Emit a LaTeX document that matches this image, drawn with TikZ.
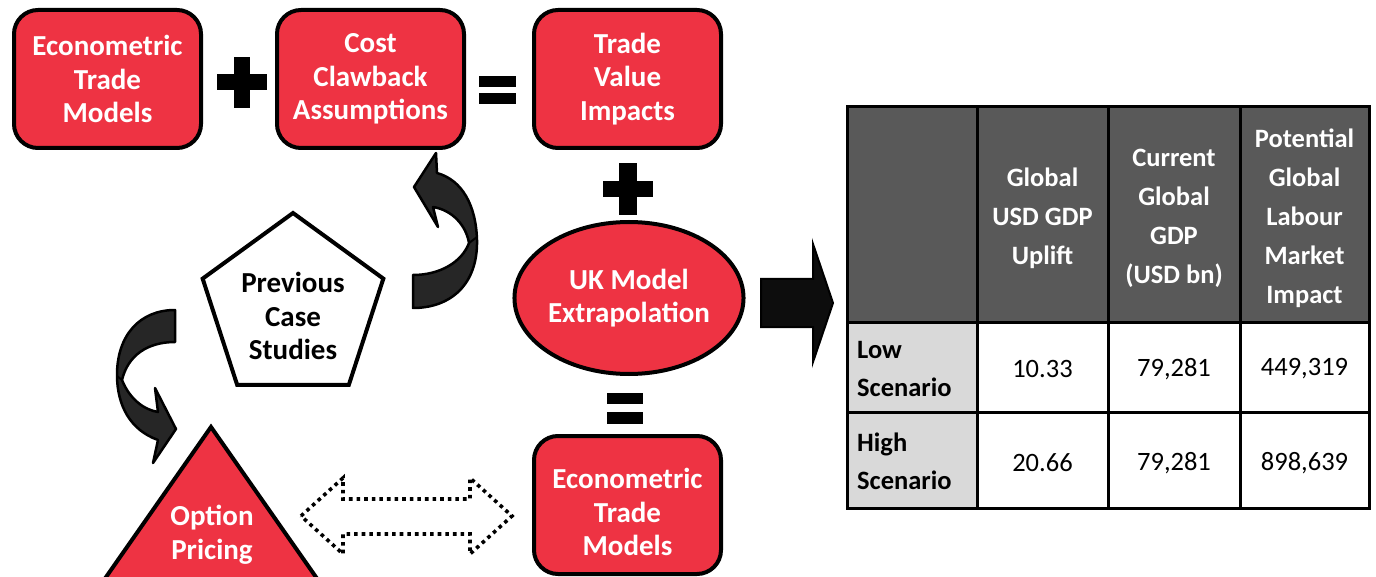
\documentclass[tikz,border=0pt]{standalone}
\usepackage{fontspec}
\setmainfont{Carlito}
\usepackage{tikz}
\usetikzlibrary{positioning,shapes.geometric}

\definecolor{boxred}{RGB}{238,51,67}
\definecolor{arrowgray}{RGB}{38,38,38}
\definecolor{headgray}{RGB}{89,89,89}
\definecolor{rowgray}{RGB}{217,217,217}

\begin{document}
\begin{tikzpicture}[x=1pt,y=-1pt,
    redbox/.style={draw,line width=4pt,fill=boxred,rounded corners=24pt,minimum width=187pt,minimum height=138pt,inner sep=0pt,align=center,text=white,font=\bfseries\fontsize{29}{33.5}\selectfont},
    boxtext/.style={align=center,text=white,font=\bfseries\fontsize{29}{33.5}\selectfont},
    bendarrow/.style={draw,fill=arrowgray,line width=2.5pt,line join=round},
    headtext/.style={align=center,text=white,font=\bfseries\fontsize{26.5}{39}\selectfont},
    celltext/.style={font=\fontsize{26.5}{32}\selectfont},
    rowtext/.style={anchor=west,align=left,inner sep=0pt,font=\bfseries\fontsize{26.5}{38}\selectfont}]
  \useasboundingbox (0,0) rectangle (1376,577);
  \clip (0,0) rectangle (1376,577);

  % top row
  \node[redbox] (etm) at (107.5,79) {Econometric\\Trade\\Models};
  \node[redbox,right=72pt of etm] (ccl) {Cost\\Clawback\\Assumptions};
  \node[redbox,right=66pt of ccl] (tvi) {Trade\\Value\\Impacts};

  % + and =
  \fill (217,74) rectangle (267,90);
  \fill (234,57) rectangle (250,108);
  \fill (479,76) rectangle (516,87);
  \fill (479,93) rectangle (516,104);
  \fill (603,181) rectangle (653,197);
  \fill (619,163) rectangle (637,215);
  \fill (607,393) rectangle (643,404);
  \fill (607,412) rectangle (643,424);

  % middle column
  \node[ellipse,draw,line width=4pt,fill=boxred,minimum width=226pt,minimum height=152pt,inner sep=0pt,boxtext] (ukm) at (629,298) {UK Model\\Extrapolation};
  \node[redbox] (etm2) at (627.5,505) {};
  \node[boxtext] (etm2txt) at (627.5,512) {Econometric\\Trade\\Models};

  % case studies
  \node[regular polygon,regular polygon sides=5,draw,line width=4pt,fill=white,minimum size=190pt,inner sep=0pt] (pcs) at (293,308) {};
  \node[align=center,font=\bfseries\fontsize{29}{33.5}\selectfont] (pcstxt) at (293,316) {Previous\\Case\\Studies};

  % option pricing
  \draw[line width=4pt,fill=boxred] (211,427) -- (62,640) -- (360,640) -- cycle;
  \node[boxtext] (opt) at (212,535) {Option\\Pricing};

  % curved arrows
  \draw[bendarrow] (436,153) -- (414,187) -- (438,227) -- (433,207)
    .. controls (452,210) and (466,225) .. (469,243)
    .. controls (462,262) and (440,275) .. (413,275) -- (413,308)
    .. controls (450,308) and (478,285) .. (477,240)
    .. controls (476,205) and (462,180) .. (437,173) -- cycle;
  \draw[line width=2pt] (469,243) -- (477,237);
  \draw[bendarrow] (175,310) -- (175,342)
    .. controls (148,342) and (128,355) .. (122,380)
    .. controls (130,400) and (145,410) .. (158,412) -- (155,388) -- (176,429) -- (153,463) -- (158,440)
    .. controls (130,430) and (117,405) .. (117,375)
    .. controls (117,335) and (140,310) .. (175,310) -- cycle;
  \draw[line width=2pt] (122,380) -- (117,376);

  % dotted double arrow
  \draw[line width=3.6pt,dash pattern=on 3.6pt off 4pt] (301,516) -- (343,478) -- (343,499) -- (470,499) -- (470,478) -- (512,516) -- (470,554) -- (470,534) -- (343,534) -- (343,554) -- cycle;

  % arrow to the table
  \draw[line width=2pt,fill=black!95] (761,279) -- (813,279) -- (813,244) -- (833,303) -- (813,362) -- (813,327) -- (761,327) -- cycle;

  % table
  \fill[headgray] (847,107) rectangle (1369,323);
  \fill[rowgray] (847,323) rectangle (977,508);
  \draw[line width=3pt] (847,107) rectangle (1369,508);
  \draw[line width=3pt] (847,323) -- (1369,323) (847,412) -- (1369,412)
    (977,107) -- (977,508) (1108,107) -- (1108,508) (1240,107) -- (1240,508);

  \node[headtext] (gdpup) at (1042.5,218) {Global\\USD GDP\\Uplift};
  \node[headtext] (curgdp) at (1174,218) {Current\\Global\\GDP\\(USD bn)};
  \node[headtext] (labour) at (1304.5,218) {Potential\\Global\\Labour\\Market\\Impact};

  \node[rowtext] (low) at (857,369) {Low\\Scenario};
  \node[rowtext] (high) at (857,461) {High\\Scenario};

  \node[celltext] (lowup) at (1042.5,369) {10.33};
  \node[celltext] (lowgdp) at (1174,369) {79,281};
  \node[celltext] (lowlab) at (1304.5,369) {449,319};
  \node[celltext] (highup) at (1042.5,463) {20.66};
  \node[celltext] (highgdp) at (1174,463) {79,281};
  \node[celltext] (highlab) at (1304.5,463) {898,639};
\end{tikzpicture}
\end{document}
